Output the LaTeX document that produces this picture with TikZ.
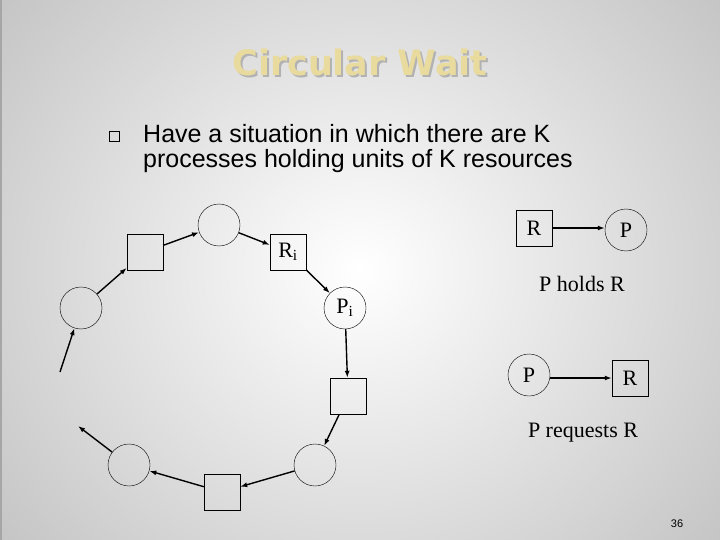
\documentclass[tikz,border=0pt]{standalone}
\usepackage{fontspec}
\setmainfont{Liberation Serif}
\newfontfamily\arial{Liberation Sans}
\newfontfamily\titlefont{DejaVu Sans}
\usetikzlibrary{arrows.meta,shadings}
\definecolor{titlegold}{HTML}{E9DA9E}
\begin{document}
\begin{tikzpicture}[x=1pt,y=-1pt,
  proc/.style={circle,draw,thin,minimum size=42pt,inner sep=0pt,font=\fontsize{22}{22}\selectfont},
  res/.style={rectangle,draw,thin,minimum size=36pt,inner sep=0pt,font=\fontsize{22}{22}\selectfont},
  arr/.style={-{Latex[length=7pt,width=5pt]},line width=1.4pt},
  captxt/.style={font=\fontsize{22}{22}\selectfont},
  bodytxt/.style={anchor=base west,inner sep=0pt,font=\arial\fontsize{25}{25}\selectfont}]
\useasboundingbox (0,0) rectangle (720,540);
\shade[inner color=white,outer color=gray!55] (-200,-250) rectangle (920,790);
\fill[gray!70] (0,0) rectangle (2,540);
% title
\node[text=gray!60] at (362,64) {\resizebox{255pt}{!}{\titlefont\bfseries Circular Wait}};
\node[text=titlegold] at (360,62) {\resizebox{255pt}{!}{\titlefont\bfseries Circular Wait}};
% bullet text
\node[draw,thin,minimum size=10pt,inner sep=0pt] (bul) at (114,136) {};
\node[bodytxt] (t1) at (143,143) {Have a situation in which there are K};
\node[bodytxt] (t2) at (143,168) {processes holding units of K resources};
% cycle
\node[proc] (c1) at (81,308) {};
\node[res] (s1) at (145,252) {};
\node[proc] (c2) at (219,225) {};
\node[res] (ri) at (288,252) {R\textsubscript{i}};
\node[proc] (pi) at (345,308) {P\textsubscript{i}};
\node[res] (s2) at (348,396) {};
\node[proc] (c3) at (315,465) {};
\node[res] (s3) at (222,492) {};
\node[proc] (c4) at (129,465) {};
\coordinate (f1) at (60,372);
\coordinate (f2) at (78,426);
\draw[arr] (f1) -- (c1);
\draw[arr] (c1) -- (s1);
\draw[arr] (s1) -- (c2);
\draw[arr] (c2) -- (ri);
\draw[arr] (ri) -- (pi);
\draw[arr] (pi) -- (s2);
\draw[arr] (s2) -- (c3);
\draw[arr] (c3) -- (s3);
\draw[arr] (s3) -- (c4);
\draw[arr] (c4) -- (f2);
% legend
\node[res] (lr1) at (534,228) {R};
\node[proc] (lp1) at (626,230) {P};
\draw[arr] (lr1.east) -- (lp1.west|-lr1.east);
\node[captxt] (h) at (582,284) {P holds R};
\node[proc] (lp2) at (529,375) {P};
\node[res] (lr2) at (630,378) {R};
\draw[arr] (lp2.east|-lr2.west) -- (lr2.west);
\node[captxt] (rq) at (583,433) {P requests R};
\node[font=\arial\fontsize{11}{11}\selectfont] (pg) at (677,524) {36};
\end{tikzpicture}
\end{document}
